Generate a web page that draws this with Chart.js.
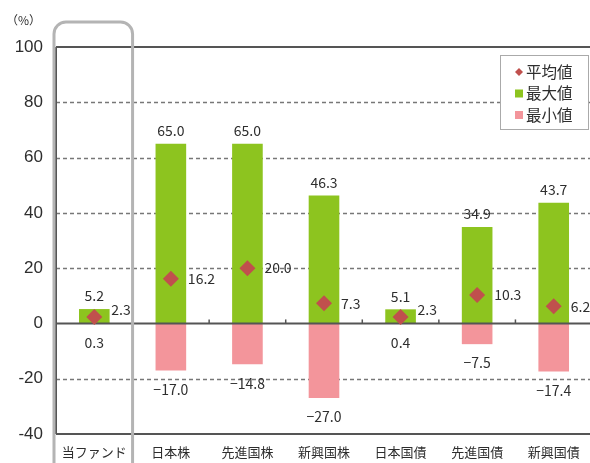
<!DOCTYPE html>
<html>
<head>
<meta charset="utf-8">
<script src="https://cdn.jsdelivr.net/npm/chart.js@4/dist/chart.umd.min.js"></script>
<style>
html,body{margin:0;padding:0;background:#fff;overflow:hidden;width:590px;height:463px;}
#wrap{position:absolute;left:0;top:0;width:600px;height:463px;}
</style>
</head>
<body>
<div id="wrap"><canvas id="c" width="600" height="463"></canvas></div>
<script>
const categories = ['当ファンド','日本株','先進国株','新興国株','日本国債','先進国債','新興国債'];
const maxValues = [5.2, 65.0, 65.0, 46.3, 5.1, 34.9, 43.7];
const minValues = [0.3, -17.0, -14.8, -27.0, 0.4, -7.5, -17.4];
const avgValues = [2.3, 16.2, 20.0, 7.3, 2.3, 10.3, 6.2];
const yTicks = [100, 80, 60, 40, 20, 0, -20, -40];
const legendLabels = ['平均値','最大値','最小値'];

const GREEN = '#8dc41f';
const PINK = '#f3959b';
const RED = '#c0504d';
const TXT = '#2e2e2e';
const FONT = '"Noto Sans CJK JP", "Noto Sans", sans-serif';

const overlay = {
  id: 'overlay',
  beforeDatasetsDraw(chart) {
    const {ctx, chartArea: a, scales: {x, y}} = chart;
    ctx.save();
    ctx.strokeStyle = '#777';
    ctx.lineWidth = 1.3;
    ctx.setLineDash([4, 3]);
    yTicks.forEach(v => {
      if (v === 0 || v === yTicks[0] || v === yTicks[yTicks.length - 1]) return;
      const py = Math.round(y.getPixelForValue(v)) + 0.5;
      ctx.beginPath(); ctx.moveTo(a.left, py); ctx.lineTo(a.right, py); ctx.stroke();
    });
    ctx.setLineDash([]);
    ctx.strokeStyle = '#555';
    ctx.lineWidth = 2;
    [yTicks[0], yTicks[yTicks.length - 1]].forEach(v => {
      const py = y.getPixelForValue(v);
      ctx.beginPath(); ctx.moveTo(a.left, py); ctx.lineTo(a.right, py); ctx.stroke();
    });
    ctx.beginPath(); ctx.moveTo(a.left, a.top); ctx.lineTo(a.left, a.bottom); ctx.stroke();
    ctx.restore();
  },
  afterDatasetDraw(chart, args) {
    if (args.index !== 1) return;
    const {ctx, chartArea: a, scales: {x, y}} = chart;
    ctx.save();
    const z = y.getPixelForValue(0);
    ctx.strokeStyle = '#555';
    ctx.lineWidth = 2;
    ctx.beginPath(); ctx.moveTo(a.left, z); ctx.lineTo(a.right, z); ctx.stroke();
    ctx.lineWidth = 1.5;
    for (let i = 1; i < categories.length; i++) {
      const px = (x.getPixelForValue(i - 1) + x.getPixelForValue(i)) / 2;
      ctx.beginPath(); ctx.moveTo(px, z); ctx.lineTo(px, z - 4); ctx.stroke();
    }
    ctx.restore();
  },
  afterDraw(chart) {
    const {ctx, chartArea: a, scales: {x, y}} = chart;
    ctx.save();
    ctx.fillStyle = TXT;
    ctx.font = '14px ' + FONT;
    const z = y.getPixelForValue(0);
    categories.forEach((c, i) => {
      const cx = x.getPixelForValue(i);
      ctx.textAlign = 'center';
      ctx.textBaseline = 'middle';
      ctx.fillText(maxValues[i].toFixed(1), cx, y.getPixelForValue(maxValues[i]) - 13);
      const bottom = Math.max(y.getPixelForValue(minValues[i]), z);
      ctx.fillText(minValues[i].toFixed(1).replace('-', '−'), cx, bottom + 19);
      const ay = y.getPixelForValue(avgValues[i]);
      ctx.textAlign = 'left';
      ctx.fillText(avgValues[i].toFixed(1), cx + 17, Math.min(ay, z - 14));
    });
    ctx.textAlign = 'left';
    ctx.font = '12px ' + FONT;
    ctx.fillText('（%）', 6, 20);
    const l = a.left - 2;
    const r = (x.getPixelForValue(0) + x.getPixelForValue(1)) / 2;
    const t = 22, rad = 12;
    ctx.strokeStyle = '#b4b4b4';
    ctx.lineWidth = 3;
    ctx.beginPath();
    ctx.moveTo(l, 470);
    ctx.lineTo(l, t + rad);
    ctx.arcTo(l, t, l + rad, t, rad);
    ctx.lineTo(r - rad, t);
    ctx.arcTo(r, t, r, t + rad, rad);
    ctx.lineTo(r, 470);
    ctx.stroke();
    const lx = 500, ly = 55, lw = 88, lh = 74;
    ctx.fillStyle = '#fff';
    ctx.fillRect(lx, ly, lw, lh);
    ctx.strokeStyle = '#aaa';
    ctx.lineWidth = 1;
    ctx.strokeRect(lx + 0.5, ly + 0.5, lw, lh);
    const colors = [RED, GREEN, PINK];
    ctx.font = '15.5px ' + FONT;
    ctx.textBaseline = 'middle';
    legendLabels.forEach((lab, k) => {
      const my = ly + 17 + k * 21.5;
      ctx.fillStyle = colors[k];
      if (k === 0) {
        ctx.beginPath();
        ctx.moveTo(519, my - 4); ctx.lineTo(523, my); ctx.lineTo(519, my + 4); ctx.lineTo(515, my);
        ctx.closePath(); ctx.fill();
      } else {
        ctx.fillRect(515, my - 4, 8, 8);
      }
      ctx.fillStyle = TXT;
      ctx.textAlign = 'left';
      ctx.fillText(lab, 526, my);
    });
    ctx.restore();
  }
};

new Chart(document.getElementById('c'), {
  type: 'bar',
  data: {
    labels: categories,
    datasets: [
      {type: 'line', label: '平均値', data: avgValues, showLine: false, pointStyle: 'rectRot',
       pointRadius: 8, pointHoverRadius: 8, backgroundColor: RED, borderColor: RED, borderWidth: 0, order: 0},
      {label: '最大値', data: maxValues, backgroundColor: GREEN, grouped: false, order: 1,
       barPercentage: 1, categoryPercentage: 0.4},
      {label: '最小値', data: minValues, backgroundColor: PINK, grouped: false, order: 2,
       barPercentage: 1, categoryPercentage: 0.4}
    ]
  },
  options: {
    responsive: false,
    animation: false,
    events: [],
    layout: {padding: {top: 47, right: 1, left: 0, bottom: 0}},
    plugins: {legend: {display: false}, tooltip: {enabled: false}},
    scales: {
      x: {
        grid: {display: false, drawTicks: false},
        border: {display: false},
        ticks: {color: TXT, font: {family: FONT, size: 13}, padding: 10, maxRotation: 0, autoSkip: false},
        afterFit(s) { s.height = 29; s.paddingLeft = 0; s.paddingRight = 0; }
      },
      y: {
        min: -40, max: 100,
        afterBuildTicks(s) { s.ticks = yTicks.map(v => ({value: v})); },
        grid: {display: false, drawTicks: false},
        border: {display: false},
        ticks: {color: TXT, font: {family: '"Liberation Sans", Arial, sans-serif', size: 17}, padding: 13},
        afterFit(s) { s.width = 56; s.paddingTop = 0; s.paddingBottom = 0; }
      }
    }
  },
  plugins: [overlay]
});
</script>
</body>
</html>
